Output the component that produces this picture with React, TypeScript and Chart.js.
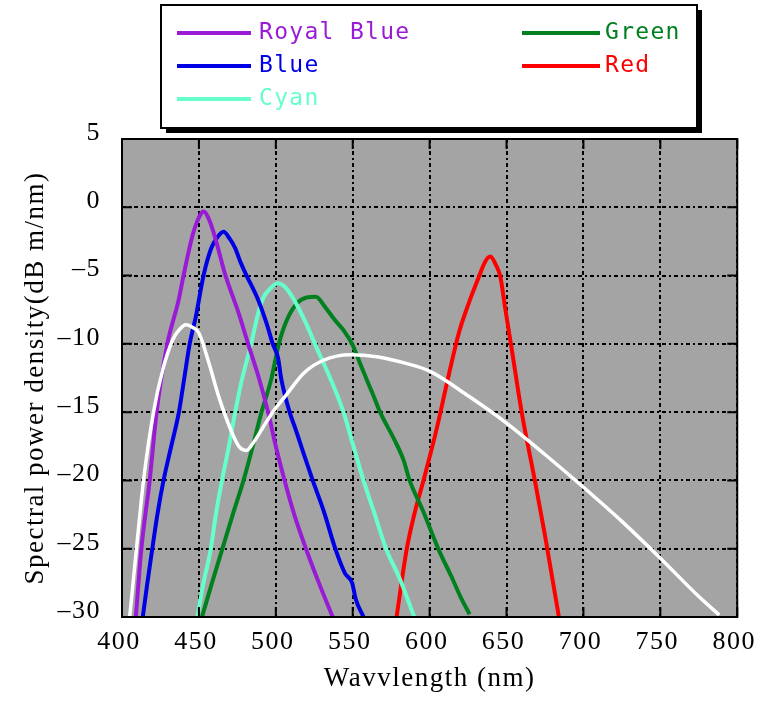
import { useEffect, useRef } from 'react';
import { Chart, registerables } from 'chart.js';

Chart.register(...registerables);

// ---- data (wavelength in nm, spectral power density in dB m/nm) ----
const royalBlueNm = [409, 412.6, 418, 422.5, 429.5, 436.8, 440, 446, 449, 453, 457, 461, 467, 476, 482, 489, 495, 500, 505.7, 512, 519.6, 528, 537];
const royalBlueDb = [-30, -25, -20, -15, -10, -6.8, -5, -2, -1, -0.3, -1, -2.4, -4.9, -7.8, -10, -12.5, -15, -17.5, -20, -22.5, -25, -27.5, -30];

const blueNm = [413.5, 416.5, 419.7, 423, 427, 432, 437, 440.5, 444, 448, 453, 458, 462, 466, 470, 473.6, 477, 481, 488.6, 494, 498, 501.4, 503.6, 509, 513, 518, 524, 531, 539, 545, 549.6, 552, 557];
const blueDb = [-30, -27.5, -25, -22.5, -20, -17.5, -15, -12.5, -10, -8, -5, -3, -2.2, -1.8, -2.3, -3, -4, -5, -6.8, -8.5, -10, -11, -12.6, -15, -16.3, -18, -20, -22.2, -25.1, -26.8, -27.5, -28.7, -30];

const cyanNm = [449, 453, 457.6, 461, 465, 469.5, 473.6, 478, 484, 488, 492, 496, 501.4, 505.7, 512, 518.6, 527, 535.7, 544, 550.5, 557, 563.5, 572, 580.6, 590];
const cyanDb = [-30, -27.5, -25.1, -22.5, -20, -17.5, -15, -12.6, -10, -8, -6.6, -6, -5.56, -5.8, -6.8, -8.25, -10.4, -12.6, -15, -17.5, -20, -22.2, -25.1, -27.2, -30];

const greenNm = [452, 458.5, 465, 472, 479, 485, 490.7, 497, 502, 507, 514, 520, 526, 532, 538, 544, 549.6, 555, 559, 563.5, 567.8, 577, 583, 587, 595.6, 606, 614, 620, 626];
const greenDb = [-30, -27.5, -25.1, -22.5, -20, -17.5, -15, -12.6, -10, -8.3, -7, -6.6, -6.55, -7.3, -8.2, -9, -10, -11.5, -12.6, -13.8, -15, -17, -18.5, -20, -22.2, -25.1, -27, -28.5, -29.8];

const redNm = [578.5, 585, 590, 596, 604, 612.7, 619, 625.5, 632, 636, 639.5, 643, 646, 649, 653.4, 660, 668.4, 674.8, 683.3, 684];
const redDb = [-30, -25.1, -22.5, -20, -16.5, -12.15, -9.2, -7, -5.1, -4, -3.6, -4.2, -5.1, -7.3, -10.4, -15.1, -20, -23.9, -29.5, -30];

const whiteNm = [405, 409.4, 414, 420.5, 426.5, 433, 437, 441.5, 446, 450, 456.5, 463, 471.5, 476, 481, 485, 490.7, 498, 505.7, 518.6, 531, 548.5, 565.6, 587, 600, 625, 650, 675, 700, 725, 750, 775, 788.3];
const whiteDb = [-30, -25, -20, -15, -11.9, -9.7, -9, -8.6, -8.8, -9.2, -11.4, -13.9, -16.5, -17.5, -17.8, -17.3, -16.3, -15, -13.9, -12.1, -11.2, -10.8, -10.94, -11.5, -12.0, -13.8, -15.8, -18.1, -20.5, -23.0, -25.7, -28.5, -29.85];

const seriesLabels = ['Royal Blue', 'Blue', 'Cyan', 'Green', 'Red'];
const seriesColors = ['#9a1bd6', '#0000e6', '#66ffcc', '#00801f', '#ff0000'];
const whiteColor = '#ffffff';

const xMin = 400;
const xMax = 800;
const xStep = 50;
const yMin = -30;
const yMax = 5;
const yStep = 5;

const xTitle = 'Wavvlength (nm)';
const yTitle = 'Spectral power density(dB m/nm)';

function pairs(xs: number[], ys: number[]) {
  return xs.map((x, i) => ({ x, y: ys[i] }));
}

const plotBackground = {
  id: 'plotBackground',
  beforeDraw(chart: any) {
    const { ctx, chartArea: a } = chart;
    ctx.save();
    ctx.fillStyle = '#ffffff';
    ctx.fillRect(0, 0, chart.width, chart.height);
    ctx.fillStyle = '#a4a4a4';
    ctx.fillRect(a.left, a.top, a.right - a.left, a.bottom - a.top);
    ctx.restore();
    ctx.letterSpacing = '1.5px';
  },
  beforeUpdate(chart: any) {
    chart.ctx.letterSpacing = '1.5px';
  },
};

const plotFrame = {
  id: 'plotFrame',
  afterDatasetsDraw(chart: any) {
    const { ctx, chartArea: a, scales } = chart;
    ctx.save();
    ctx.strokeStyle = '#000';
    ctx.lineWidth = 2;
    ctx.setLineDash([]);
    const len = 10;
    ctx.beginPath();
    scales.x.ticks.forEach((t: any) => {
      const px = scales.x.getPixelForValue(t.value);
      ctx.moveTo(px, a.bottom);
      ctx.lineTo(px, a.bottom - len);
      ctx.moveTo(px, a.top);
      ctx.lineTo(px, a.top + len);
    });
    scales.y.ticks.forEach((t: any) => {
      const py = scales.y.getPixelForValue(t.value);
      ctx.moveTo(a.left, py);
      ctx.lineTo(a.left + len, py);
      ctx.moveTo(a.right, py);
      ctx.lineTo(a.right - len, py);
    });
    ctx.stroke();
    ctx.strokeRect(a.left, a.top, a.right - a.left, a.bottom - a.top);
    ctx.restore();
  },
};

const boxLegend = {
  id: 'boxLegend',
  afterDraw(chart: any) {
    const { ctx } = chart;
    const bx = 161, by = 5, bw = 536, bh = 123, sh = 5;
    ctx.save();
    ctx.setLineDash([]);
    ctx.fillStyle = '#000';
    ctx.fillRect(bx + sh, by + sh, bw, bh);
    ctx.fillStyle = '#fff';
    ctx.fillRect(bx, by, bw, bh);
    ctx.strokeStyle = '#000';
    ctx.lineWidth = 2;
    ctx.strokeRect(bx, by, bw, bh);
    const cols = [
      { lx0: 177, lx1: 251, tx: 259 },
      { lx0: 522, lx1: 600, tx: 605 },
    ];
    const rows = [33, 66, 99];
    const cells = [
      [0, 0], [0, 1], [0, 2], [1, 0], [1, 1],
    ];
    ctx.font = '23px "DejaVu Sans Mono"';
    ctx.letterSpacing = '1.3px';
    ctx.textBaseline = 'alphabetic';
    ctx.textAlign = 'left';
    seriesLabels.forEach((label, i) => {
      const [c, r] = cells[i];
      const col = cols[c];
      const y = rows[r];
      ctx.strokeStyle = seriesColors[i];
      ctx.lineWidth = 4;
      ctx.beginPath();
      ctx.moveTo(col.lx0, y);
      ctx.lineTo(col.lx1, y);
      ctx.stroke();
      ctx.fillStyle = seriesColors[i];
      ctx.fillText(label, col.tx, y + 6);
    });
    ctx.restore();
  },
};

export default function App() {
  const canvasRef = useRef<HTMLCanvasElement | null>(null);

  useEffect(() => {
    const canvas = canvasRef.current;
    if (!canvas) return;
    const seriesData = [
      pairs(royalBlueNm, royalBlueDb),
      pairs(blueNm, blueDb),
      pairs(cyanNm, cyanDb),
      pairs(greenNm, greenDb),
      pairs(redNm, redDb),
    ];
    const datasets: any[] = seriesLabels.map((label, i) => ({
      label,
      data: seriesData[i],
      borderColor: seriesColors[i],
      backgroundColor: seriesColors[i],
      borderWidth: 4,
      pointRadius: 0,
      cubicInterpolationMode: 'monotone',
      fill: false,
      order: i + 1,
    }));
    datasets.push({
      label: 'White',
      data: pairs(whiteNm, whiteDb),
      borderColor: whiteColor,
      backgroundColor: whiteColor,
      borderWidth: 3.5,
      pointRadius: 0,
      cubicInterpolationMode: 'monotone',
      fill: false,
      order: 0,
    });

    const tickFont = { family: '"Liberation Serif", "Times New Roman", serif', size: 26 };
    const titleFont = { family: '"Liberation Serif", "Times New Roman", serif', size: 27 };

    const chart = new Chart(canvas, {
      type: 'line',
      data: { datasets },
      plugins: [plotBackground, plotFrame, boxLegend],
      options: {
        responsive: false,
        animation: false,
        devicePixelRatio: 1,
        events: [],
        layout: { padding: { top: 139, right: 24, left: 0, bottom: 0 } },
        plugins: {
          legend: { display: false },
          tooltip: { enabled: false },
        },
        scales: {
          x: {
            type: 'linear',
            min: xMin,
            max: xMax,
            afterFit(s: any) { s.height = 87; },
            ticks: {
              stepSize: xStep,
              color: '#000',
              font: tickFont,
              padding: 10,
              labelOffset: -3,
              maxRotation: 0,
              autoSkip: false,
            },
            grid: { color: '#000', lineWidth: 2, drawTicks: false },
            border: { display: false, dash: [4, 3, 2, 3] },
            title: {
              display: true,
              text: xTitle,
              color: '#000',
              font: titleFont,
              padding: { top: 0, bottom: 9 },
            },
          },
          y: {
            type: 'linear',
            min: yMin,
            max: yMax,
            afterFit(s: any) { s.width = 122; },
            ticks: {
              stepSize: yStep,
              color: '#000',
              font: tickFont,
              padding: 21,
              labelOffset: -6,
              callback: (v: any) => (Number(v) < 0 ? '\u2013' + Math.abs(Number(v)) : String(v)),
            },
            grid: { color: '#000', lineWidth: 2, drawTicks: false },
            border: { display: false, dash: [4, 3, 2, 3] },
            title: {
              display: true,
              text: yTitle,
              color: '#000',
              font: titleFont,
              padding: { top: 20, bottom: 0 },
            },
          },
        },
      } as any,
    });
    return () => chart.destroy();
  }, []);

  return (
    <div style={{ position: 'fixed', left: 0, top: 0, width: 769, height: 704, background: '#fff' }}>
      <canvas ref={canvasRef} width={769} height={704} style={{ display: 'block', width: 769, height: 704 }} />
    </div>
  );
}
